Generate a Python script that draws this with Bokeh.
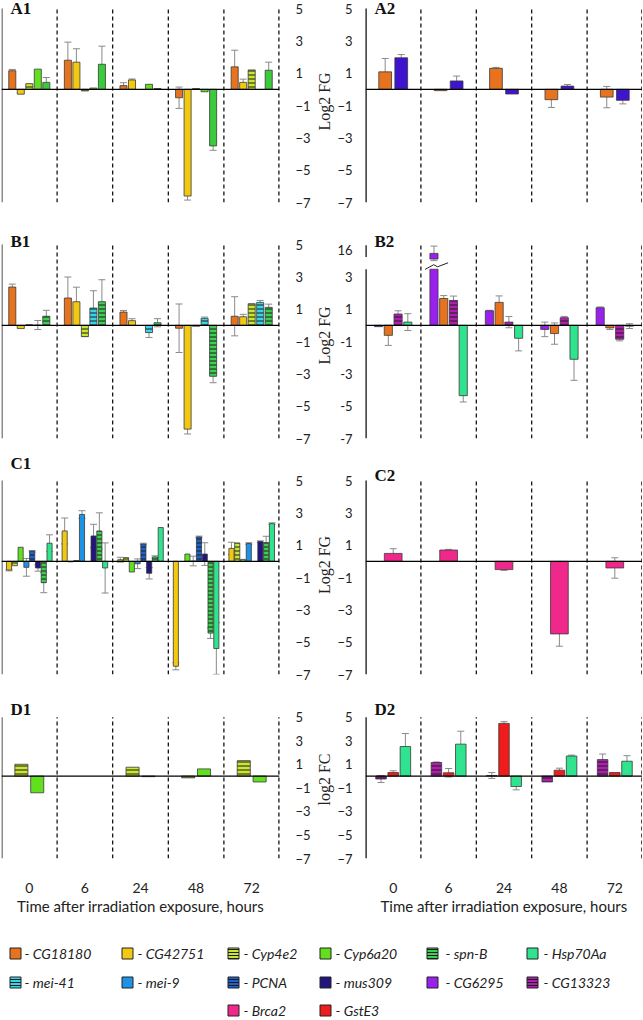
from bokeh.plotting import figure
from bokeh.models import (FactorRange, Range1d, FixedTicker, Span, Whisker, TeeHead,
                          ColumnDataSource, Label)
from bokeh.transform import dodge
from bokeh.layouts import column, row
from bokeh.embed import file_html
from bokeh.resources import INLINE
from bokeh.core.properties import value

# ---------------- data (log2 fold change) ----------------
times = ["0", "6", "24", "48", "72"]
y_ticks = [-7, -5, -3, -1, 1, 3, 5]
b2_ticks = [-7, -5, -3, -1, 1, 3, 16]

# A1
a1_cg18180 = [1.15, 1.80, 0.23, -0.52, 1.39]
a1_cg18180_err = [0.08, 1.12, 0.18, 0.66, 1.03]
a1_cg42751 = [-0.30, 1.68, 0.58, -6.60, 0.43]
a1_cg42751_err = [None, 0.83, 0.06, 0.25, 0.20]
a1_cyp4e2 = [0.35, -0.10, None, 0.05, 1.20]
a1_cyp6a20 = [1.25, 0.08, 0.31, -0.15, None]
a1_green = [0.43, 1.55, 0.05, -3.50, 1.18]
a1_green_err = [0.30, 1.12, None, 0.27, 0.50]

# A2
a2_cg18180 = [1.08, -0.08, 1.30, -0.64, -0.48]
a2_cg18180_err = [0.83, None, 0.06, 0.48, 0.66]
a2_blue = [1.95, 0.52, -0.29, 0.20, -0.68]
a2_blue_err = [0.20, 0.30, None, 0.10, 0.22]

# B1
b1_cg18180 = [2.37, 1.69, 0.82, -0.18, 0.56]
b1_cg18180_err = [0.18, 1.30, 0.10, 1.50, 1.21]
b1_cg42751 = [-0.20, 1.46, 0.29, -6.42, 0.53]
b1_cg42751_err = [None, 0.90, 0.12, 0.30, 0.15]
b1_cyp4e2 = [0.04, -0.70, None, -0.06, 1.34]
b1_mei41 = [0.02, 1.07, -0.45, 0.43, 1.42]
b1_mei41_err = [0.28, 1.07, 0.30, 0.08, 0.12]
b1_spnb = [0.56, 1.46, 0.16, -3.15, 1.11]
b1_spnb_err = [0.37, 1.36, 0.25, 0.40, 0.20]

# B2
b2_cg6295 = [-0.08, 15.8, 0.90, -0.25, 1.09]
b2_cg6295_err = [None, 0.45, 0.03, 0.45, 0.05]
b2_cg18180 = [-0.62, 1.66, 1.42, -0.51, -0.16]
b2_cg18180_err = [0.62, 0.18, 0.40, 0.66, 0.10]
b2_cg13323 = [0.70, 1.54, 0.20, 0.47, -0.86]
b2_cg13323_err = [0.20, 0.27, 0.35, 0.08, 0.10]
b2_hsp70aa = [0.20, -4.35, -0.80, -2.10, -0.05]
b2_hsp70aa_err = [0.52, 0.39, 0.78, 1.30, 0.15]

# C1
c1_cg42751 = [-0.54, 1.88, 0.10, -6.49, 0.80]
c1_cg42751_err = [0.05, 0.80, 0.15, 0.22, 0.38]
c1_cyp4e2 = [-0.27, -0.03, 0.23, None, 1.14]
c1_cyp6a20 = [0.87, 0.05, -0.66, 0.45, 0.12]
c1_mei9 = [-0.37, 2.90, -0.15, 0.02, 1.10]
c1_mei9_err = [0.55, 0.23, 0.30, 0.30, 0.05]
c1_pcna = [0.62, None, 1.07, 1.51, None]
c1_pcna_err = [0.05, None, 0.05, 0.05, None]
c1_mus309 = [-0.41, 1.57, -0.74, 0.45, 1.22]
c1_mus309_err = [0.20, 0.72, 0.35, 0.70, 0.05]
c1_spnb = [-1.32, 1.88, 0.27, -4.44, 1.16]
c1_spnb_err = [0.62, 1.12, 0.07, 0.33, 0.39]
c1_hsp70aa = [1.12, -0.41, 2.09, -5.39, 2.33]
c1_hsp70aa_err = [0.52, 1.55, None, 1.60, 0.05]

# C2
c2_brca2 = [0.49, 0.70, -0.51, -4.49, -0.41]
c2_brca2_err = [0.29, 0.04, 0.05, 0.76, 0.63]

# D1
d1_cyp4e2 = [1.00, None, 0.75, -0.15, 1.31]
d1_cyp6a20 = [-1.42, None, -0.05, 0.61, -0.50]

# D2
d2_cg13323 = [-0.25, 1.15, 0.05, -0.50, 1.40]
d2_cg13323_err = [0.30, 0.05, 0.25, None, 0.47]
d2_gste3 = [0.30, 0.28, 4.47, 0.50, 0.30]
d2_gste3_err = [0.15, 0.36, 0.15, 0.17, None]
d2_hsp70aa = [2.51, 2.71, -0.89, 1.70, 1.26]
d2_hsp70aa_err = [1.10, 1.10, 0.28, 0.08, 0.47]

legend_rows = [
    ["CG18180", "CG42751", "Cyp4e2", "Cyp6a20", "spn-B", "Hsp70Aa"],
    ["mei-41", "mei-9", "PCNA", "mus309", "CG6295", "CG13323"],
    [None, None, "Brca2", "GstE3", None, None],
]

# ---------------- styles ----------------
STYLE = {
    "CG18180": ("#E8731E", None),
    "CG42751": ("#F2C811", None),
    "Cyp4e2": ("#C8E632", "horizontal_line"),
    "Cyp6a20": ("#62E01E", None),
    "spn-B": ("#3ECF52", "horizontal_line"),
    "Hsp70Aa": ("#30E38E", None),
    "mei-41": ("#38D4E8", "horizontal_line"),
    "mei-9": ("#1E92E4", None),
    "PCNA": ("#1E62CC", "horizontal_line"),
    "mus309": ("#22167E", None),
    "CG6295": ("#9A20EE", None),
    "CG13323": ("#B01EB0", "horizontal_line"),
    "Brca2": ("#F0288C", None),
    "GstE3": ("#EE1C1C", None),
    "green": ("#3ACB3A", None),
    "blue": ("#3F14CF", None),
}
ERR_COL = "#8a8a8a"
OUTLINE = "#3a3a3a"
TICK_FONT = "Lato"

BRK_CUT = 3.47     # where the lower part of the broken B2 axis ends
BRK_TICK = 4.65    # display position of the "16" tick on the B2 axis


def b2_disp(v):
    return v if v <= BRK_CUT else BRK_TICK + (v - 16)


def make_fig(side, h, top, extra, span, xaxis, ylab):
    bottom = h - top - extra - span
    ytop = 5 + extra * 12.0 / span
    kw = dict(height=h, x_range=FactorRange(factors=times), y_range=Range1d(-7, ytop),
              toolbar_location=None, output_backend="svg",
              min_border_top=top, min_border_bottom=bottom, outline_line_color=None)
    if side == "L":
        p = figure(width=313, y_axis_location="right", min_border_left=1,
                   min_border_right=23, **kw)
    else:
        p = figure(width=329, min_border_left=40, min_border_right=0, **kw)
    p.xgrid.visible = False
    p.ygrid.visible = False
    ya = p.yaxis[0]
    ya.ticker = FixedTicker(ticks=y_ticks)
    ya.axis_line_color = None
    ya.major_tick_line_color = None
    ya.minor_tick_line_color = None
    ya.major_label_text_font = TICK_FONT
    ya.major_label_text_font_size = "13px"
    ya.major_label_text_color = "#222222"
    n = len(times)
    if side == "L":
        ya.major_label_standoff = 10
        p.segment(x0=[0], y0=[-7], x1=[0], y1=[5], line_color="#8c8c8c", line_width=3)
    else:
        ya.major_label_standoff = 7
        ya.axis_label = ylab
        ya.axis_label_text_font = "Liberation Serif"
        ya.axis_label_text_font_style = "normal"
        ya.axis_label_text_font_size = "16px"
        ya.axis_label_text_color = "#222222"
        ya.axis_label_standoff = 1
    xa = p.xaxis[0]
    if xaxis:
        xa.axis_line_color = None
        xa.major_tick_line_color = None
        xa.minor_tick_line_color = None
        xa.major_label_text_font = TICK_FONT
        xa.major_label_text_font_size = "14px"
        xa.major_label_text_color = "#222222"
        xa.major_label_standoff = 18
        xa.axis_label = "Time after irradiation exposure, hours"
        xa.axis_label_text_font = TICK_FONT
        xa.axis_label_text_font_style = "normal"
        xa.axis_label_text_font_size = "15px"
        xa.axis_label_text_color = "#222222"
        xa.axis_label_standoff = 1
    else:
        xa.visible = False
    p.add_layout(Span(location=0, dimension="width", line_color="black", line_width=1.2))
    for b in range(1, n + 1):
        p.segment(x0=[b], y0=[-7], x1=[b], y1=[5], line_color="black",
                  line_width=2.4 if b == n else 1.2, line_dash="4 3")
    return p


def add_label(p, text, dy):
    p.add_layout(Label(x=0, y=5, x_offset=9, y_offset=dy, text=text,
                       text_font="Liberation Serif", text_font_style="bold",
                       text_font_size="17px", text_baseline="middle", text_color="#111111"))


def draw_series(p, series, spacing, bw, broken=False):
    n = len(series)
    for i, (key, vals, errs) in enumerate(series):
        off = (i - (n - 1) / 2) * spacing
        fill, hatch = STYLE[key]
        t, top, bot = [], [], []
        et, lo, hi = [], [], []
        for k, v in enumerate(vals):
            if v is None:
                continue
            dv = b2_disp(v) if broken else v
            if broken and v > BRK_CUT:
                t += [times[k], times[k]]
                top += [BRK_CUT, dv]
                bot += [0, dv - 0.35]
                # break mark on the bar
                c = k + 0.5 + off
                p.line(x=[c - 0.16, c - 0.005, c + 0.065, c + 0.255],
                       y=[BRK_CUT - 0.01, BRK_CUT + 0.28, BRK_CUT + 0.15, BRK_CUT + 0.40],
                       line_color="#222222", line_width=1)
            else:
                t.append(times[k])
                top.append(dv)
                bot.append(0)
            if errs is not None and errs[k] is not None:
                et.append(times[k])
                lo.append(dv - errs[k])
                hi.append(dv + errs[k])
        src = ColumnDataSource(dict(t=t, top=top, bot=bot))
        hk = {}
        if hatch:
            hk = dict(hatch_pattern=hatch, hatch_color="#1c1c1c", hatch_scale=4, hatch_weight=1)
        p.vbar(x=dodge("t", off, range=p.x_range), top="top", bottom="bot", width=bw,
               source=src, fill_color=fill, line_color=OUTLINE, line_width=0.8, **hk)
        if et:
            esrc = ColumnDataSource(dict(t=et, lo=lo, hi=hi))
            p.add_layout(Whisker(source=esrc, base=dodge("t", off, range=p.x_range),
                                 upper="hi", lower="lo", line_color=ERR_COL, line_width=1,
                                 upper_head=TeeHead(size=7, line_color=ERR_COL, line_width=1),
                                 lower_head=TeeHead(size=7, line_color=ERR_COL, line_width=1)))


# ---------------- panels ----------------
a1 = make_fig("L", 226, 0, 8, 194, False, None)
a2 = make_fig("R", 226, 0, 8, 194, False, "Log2 FG")
b1 = make_fig("L", 226, 6, 12, 194, False, None)
b2 = make_fig("R", 226, 6, 12, 194, False, "Log2 FG")
c1 = make_fig("L", 243, 3, 25, 194, False, None)
c2 = make_fig("R", 243, 3, 25, 194, False, "Log2 FG")
d1 = make_fig("L", 222, 5, 17, 144, True, None)
d2 = make_fig("R", 222, 5, 17, 144, True, "log2 FC")

draw_series(a1, [("CG18180", a1_cg18180, a1_cg18180_err),
                 ("CG42751", a1_cg42751, a1_cg42751_err),
                 ("Cyp4e2", a1_cyp4e2, None),
                 ("Cyp6a20", a1_cyp6a20, None),
                 ("green", a1_green, a1_green_err)], 0.153, 0.127)
draw_series(a2, [("CG18180", a2_cg18180, a2_cg18180_err),
                 ("blue", a2_blue, a2_blue_err)], 0.29, 0.23)
draw_series(b1, [("CG18180", b1_cg18180, b1_cg18180_err),
                 ("CG42751", b1_cg42751, b1_cg42751_err),
                 ("Cyp4e2", b1_cyp4e2, None),
                 ("mei-41", b1_mei41, b1_mei41_err),
                 ("spn-B", b1_spnb, b1_spnb_err)], 0.153, 0.127)
draw_series(b2, [("CG6295", b2_cg6295, b2_cg6295_err),
                 ("CG18180", b2_cg18180, b2_cg18180_err),
                 ("CG13323", b2_cg13323, b2_cg13323_err),
                 ("Hsp70Aa", b2_hsp70aa, b2_hsp70aa_err)], 0.176, 0.147, broken=True)
draw_series(c1, [("CG42751", c1_cg42751, c1_cg42751_err),
                 ("Cyp4e2", c1_cyp4e2, None),
                 ("Cyp6a20", c1_cyp6a20, None),
                 ("mei-9", c1_mei9, c1_mei9_err),
                 ("PCNA", c1_pcna, c1_pcna_err),
                 ("mus309", c1_mus309, c1_mus309_err),
                 ("spn-B", c1_spnb, c1_spnb_err),
                 ("Hsp70Aa", c1_hsp70aa, c1_hsp70aa_err)], 0.104, 0.092)
draw_series(c2, [("Brca2", c2_brca2, c2_brca2_err)], 0.3, 0.32)
draw_series(d1, [("Cyp4e2", d1_cyp4e2, None),
                 ("Cyp6a20", d1_cyp6a20, None)], 0.285, 0.235)
draw_series(d2, [("CG13323", d2_cg13323, d2_cg13323_err),
                 ("GstE3", d2_gste3, d2_gste3_err),
                 ("Hsp70Aa", d2_hsp70aa, d2_hsp70aa_err)], 0.22, 0.19)

# solid y axis line on the right-hand panels (broken on B2)
for p in (a2, c2, d2):
    p.segment(x0=[0], y0=[-7], x1=[0], y1=[5], line_color="black", line_width=2.4)
b2ax = b2.yaxis[0]
b2_pos = [b2_disp(v) for v in b2_ticks]
b2ax.ticker = FixedTicker(ticks=b2_pos)
b2ax.major_label_overrides = {pos: str(v) for pos, v in zip(b2_pos, b2_ticks)}
b2.segment(x0=[0, 0], y0=[-7, 4.22], x1=[0, 0], y1=[BRK_CUT, 4.96],
           line_color="black", line_width=2.4)

for p, lab, dy in [(a1, "A1", 0), (a2, "A2", 0), (b1, "B1", 3), (b2, "B2", 3),
                   (c1, "C1", 17), (c2, "C2", 5), (d1, "D1", 8), (d2, "D2", 8)]:
    add_label(p, lab, dy)

# ---------------- legend ----------------
LG_W, LG_H = 642, 101
lg = figure(width=LG_W, height=LG_H, x_range=Range1d(0, LG_W), y_range=Range1d(LG_H, 0),
            toolbar_location=None, output_backend="svg", min_border=0, outline_line_color=None)
lg.axis.visible = False
lg.xgrid.visible = False
lg.ygrid.visible = False
col_sw = [15, 127, 233, 325, 432, 532]
col_tx = [24, 137, 243, 335, 445, 543]
row_y = [36, 65, 93]
for r, names in enumerate(legend_rows):
    for c, g in enumerate(names):
        if g is None:
            continue
        fill, hatch = STYLE[g]
        hk = {}
        if hatch:
            hk = dict(hatch_pattern=hatch, hatch_color="#1c1c1c", hatch_scale=3, hatch_weight=1)
        lg.rect(x=[col_sw[c]], y=[row_y[r]], width=11, height=11, fill_color=fill,
                line_color="#222222", line_width=1, **hk)
        lg.text(x=[col_tx[c]], y=[row_y[r]], text=["- " + g], text_font=value(TICK_FONT),
                text_font_style="italic", text_font_size="14px", text_baseline="middle",
                text_color="#222222")

layout = column(row(a1, a2), row(b1, b2), row(c1, c2), row(d1, d2), lg)
open("out.html", "w").write(file_html(layout, INLINE))
